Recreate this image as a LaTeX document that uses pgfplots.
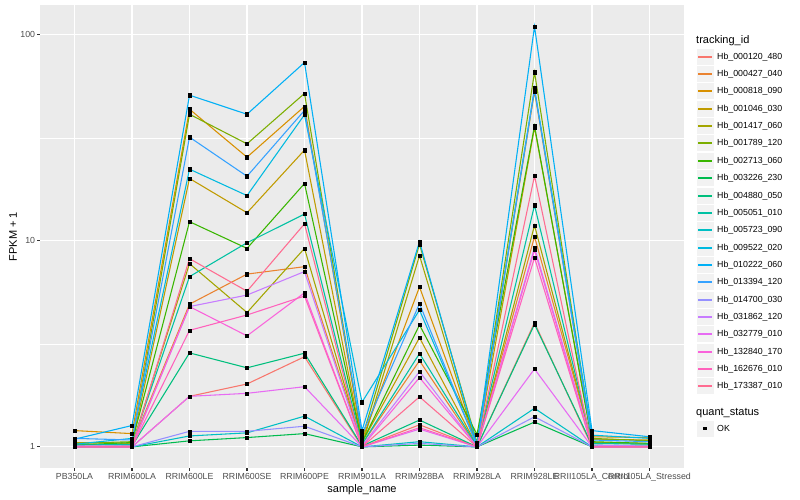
\documentclass[border=0pt]{standalone}
\usepackage{pgfplots}
\usepackage{pgfplotstable}
\pgfplotsset{compat=1.18}
\usepackage{fontspec}
\setmainfont{Liberation Sans}

\definecolor{ggbg}{HTML}{EBEBEB}
\definecolor{ggkey}{HTML}{F2F2F2}
\definecolor{gg20}{HTML}{333333}
\definecolor{gg30}{HTML}{4D4D4D}
\definecolor{c1}{HTML}{F8766D}
\definecolor{c2}{HTML}{EA8331}
\definecolor{c3}{HTML}{D89000}
\definecolor{c4}{HTML}{C09B00}
\definecolor{c5}{HTML}{A3A500}
\definecolor{c6}{HTML}{7CAE00}
\definecolor{c7}{HTML}{39B600}
\definecolor{c8}{HTML}{00BB4E}
\definecolor{c9}{HTML}{00BF7D}
\definecolor{c10}{HTML}{00C1A3}
\definecolor{c11}{HTML}{00BFC4}
\definecolor{c12}{HTML}{00BAE0}
\definecolor{c13}{HTML}{00B0F6}
\definecolor{c14}{HTML}{35A2FF}
\definecolor{c15}{HTML}{9590FF}
\definecolor{c16}{HTML}{C77CFF}
\definecolor{c17}{HTML}{E76BF3}
\definecolor{c18}{HTML}{FA62DB}
\definecolor{c19}{HTML}{FF62BC}
\definecolor{c20}{HTML}{FF6C91}

% FPKM + 1 per sample (x = 0..10), one column per tracking_id
\pgfplotstableread{
x  s1   s2   s3   s4   s5   s6   s7   s8   s9   s10  s11  s12  s13  s14  s15  s16  s17  s18  s19  s20
0  1.00 1.02 1.20 1.05 1.03 1.04 1.02 1.00 1.00 1.02 1.00 1.03 1.09 1.10 1.00 1.01 1.00 1.00 1.00 1.00
1  1.00 1.03 1.16 1.04 1.02 1.06 1.05 1.00 1.01 1.03 1.00 1.10 1.27 1.08 1.00 1.01 1.00 1.00 1.00 1.00
2  1.76 4.93 43.6 20.1 7.76 41.2 12.4 1.07 2.86 6.71 1.13 22.3 51.0 31.9 1.19 4.80 1.76 4.80 3.68 8.20
3  2.02 6.90 25.5 13.7 4.49 29.6 9.20 1.11 2.42 9.80 1.17 16.6 41.2 20.6 1.19 5.46 1.82 3.46 4.37 5.70
4  2.74 7.50 45.0 27.6 9.20 52.0 19.0 1.16 2.85 13.5 1.41 41.0 73.5 43.0 1.26 7.10 1.96 5.60 5.40 12.1
5  1.00 1.03 1.08 1.05 1.02 1.10 1.05 1.00 1.01 1.03 1.00 1.65 1.20 1.15 1.00 1.01 1.00 1.00 1.00 1.00
6  1.28 2.62 5.98 3.39 8.49 9.64 3.91 1.02 1.35 2.84 1.06 4.62 9.93 4.96 1.04 2.32 1.22 2.17 1.24 1.75
7  1.00 1.00 1.02 1.01 1.00 1.05 1.15 1.00 1.00 1.01 1.00 1.02 1.02 1.01 1.00 1.00 1.00 1.00 1.00 1.00
8  4.01 10.5 53.1 35.5 11.9 66.0 36.2 1.32 3.94 14.9 1.54 55.1 110  54.1 1.40 9.28 2.39 9.04 8.29 20.7
9  1.00 1.05 1.12 1.09 1.05 1.10 1.06 1.00 1.02 1.04 1.00 1.14 1.20 1.08 1.00 1.02 1.00 1.00 1.00 1.00
10 1.00 1.04 1.11 1.08 1.03 1.07 1.04 1.00 1.01 1.03 1.00 1.10 1.12 1.06 1.00 1.01 1.00 1.00 1.00 1.00
}\data

\begin{document}
\begin{tikzpicture}[x=1bp,y=1bp]
\path[use as bounding box] (0,0) rectangle (800,500);
\begin{axis}[
    at={(40bp,32bp)}, anchor=south west,
    width=644bp, height=462.5bp, scale only axis,
    xmin=-0.6, xmax=10.6,
    ymode=log, ymin=0.79, ymax=139,
    axis background/.style={fill=ggbg},
    axis line style={draw=none},
    xtick={0,...,10},
    xticklabels={PB350LA,RRIM600LA,RRIM600LE,RRIM600SE,RRIM600PE,RRIM901LA,RRIM928BA,RRIM928LA,RRIM928LE,RRII105LA\_Control,RRII105LA\_Stressed},
    ytick={1,10,100}, yticklabels={1,10,100},
    minor ytick={3.1623,31.623},
    xtick pos=bottom, ytick pos=left,
    tick align=outside,
    major tick length=2.75bp, minor tick length=0pt,
    tick style={gg20, line width=1.07bp},
    xmajorgrids, ymajorgrids, yminorgrids,
    major grid style={white, line width=1.07bp},
    minor grid style={white, line width=0.53bp},
    tick label style={font=\fontsize{8.8bp}{10bp}\selectfont, text=gg30},
    /pgf/number format/assume math mode=true,
    xticklabel style={inner sep=2bp},
    yticklabel style={inner sep=2bp},
    xlabel={sample\_name}, ylabel={FPKM + 1},
    label style={font=\fontsize{11bp}{13bp}\selectfont},
    xlabel style={at={(axis description cs:0.5,-0.0476)}, anchor=center},
    ylabel style={at={(axis description cs:-0.0419,0.5)}, anchor=center},
]
\pgfplotsinvokeforeach{1,...,20}{
  \addplot[c#1, line width=1.07bp, mark=none] table[x=x, y=s#1] {\data};
}
\pgfplotsinvokeforeach{1,...,20}{
  \addplot[only marks, mark=square*, mark size=1.6bp, black] table[x=x, y=s#1] {\data};
}
\end{axis}

% legend, ggplot style
\node[anchor=west, font=\fontsize{11bp}{13bp}\selectfont, inner sep=0pt] at (696,459.3) {tracking\_id};
\foreach \i/\name in {1/Hb\_000120\_480,2/Hb\_000427\_040,3/Hb\_000818\_090,4/Hb\_001046\_030,
    5/Hb\_001417\_060,6/Hb\_001789\_120,7/Hb\_002713\_060,8/Hb\_003226\_230,9/Hb\_004880\_050,
    10/Hb\_005051\_010,11/Hb\_005723\_090,12/Hb\_009522\_020,13/Hb\_010222\_060,14/Hb\_013394\_120,
    15/Hb\_014700\_030,16/Hb\_031862\_120,17/Hb\_032779\_010,18/Hb\_132840\_170,19/Hb\_162676\_010,
    20/Hb\_173387\_010}{
  \pgfmathsetmacro{\yy}{round(443.3-(\i-1)*17.35)}
  \fill[ggkey, draw=white, line width=0.5bp] (696.5,\yy-8.6) rectangle (713.8,\yy+8.6);
  \draw[c\i, line width=1.2bp] (698.2,\yy) -- (712.1,\yy);
  \node[anchor=west, font=\fontsize{8.8bp}{10bp}\selectfont, inner sep=0pt] at (717,\yy) {\name};
}
\node[anchor=west, font=\fontsize{11bp}{13bp}\selectfont, inner sep=0pt] at (696,87.3) {quant\_status};
\fill[ggkey, draw=white, line width=0.5bp] (696.5,62.8) rectangle (713.8,80);
\fill[black] (703.4,69.7) rectangle (706.9,73.2);
\node[anchor=west, font=\fontsize{8.8bp}{10bp}\selectfont, inner sep=0pt] at (717,71.4) {OK};
\end{tikzpicture}
\end{document}
